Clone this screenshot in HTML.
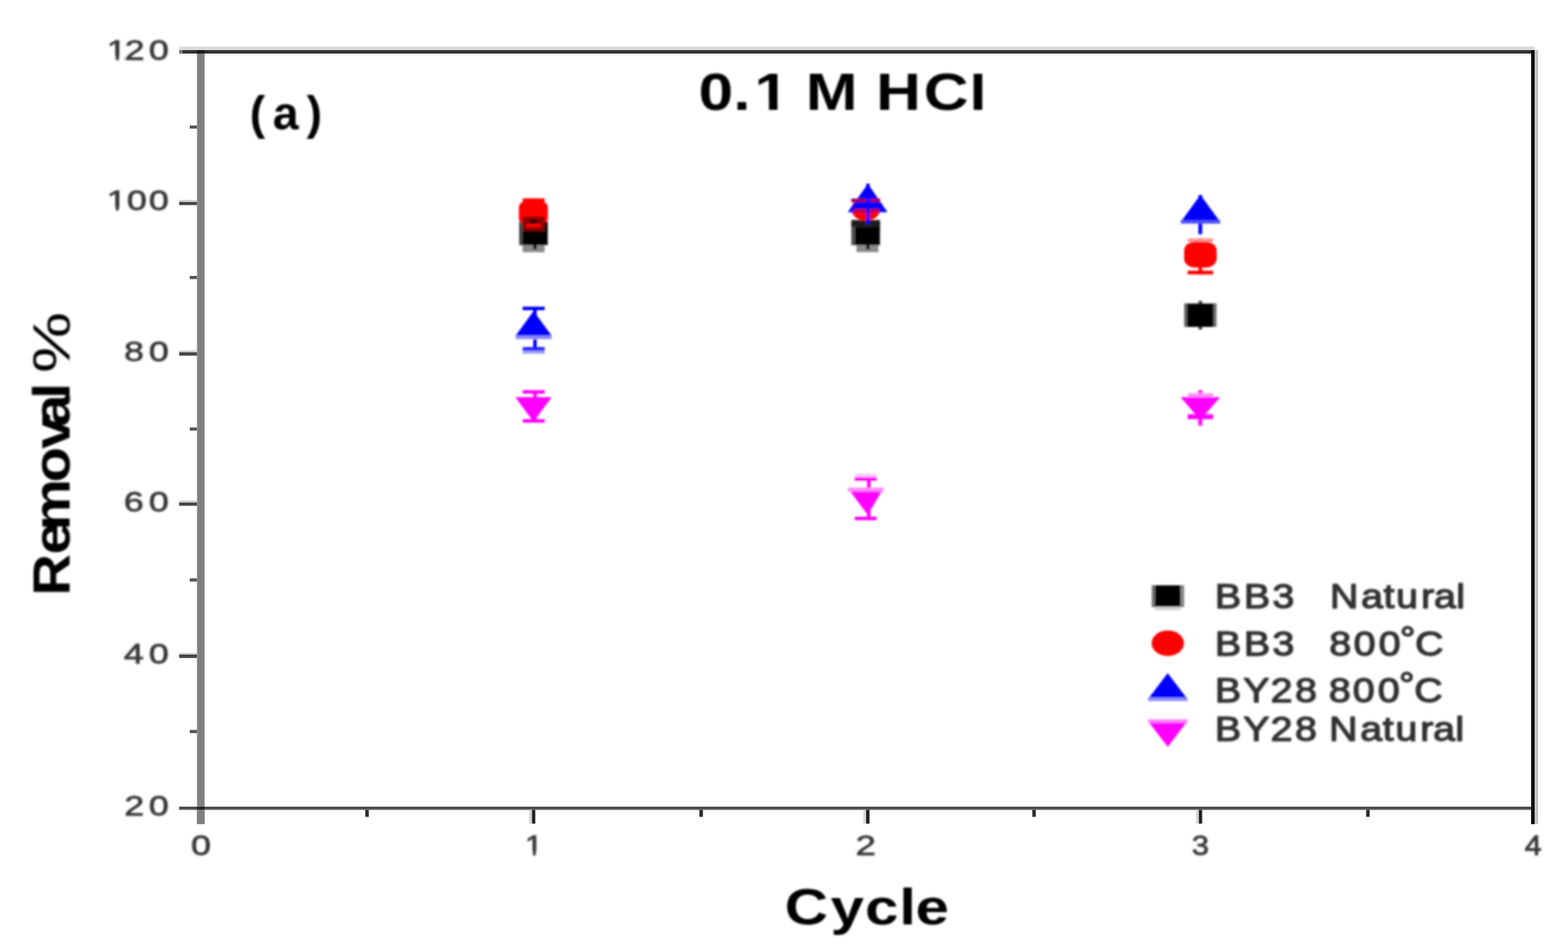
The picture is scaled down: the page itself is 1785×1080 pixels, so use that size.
<!DOCTYPE html>
<html lang="en"><head><meta charset="utf-8"><title>Removal % vs Cycle (0.1 M HCl)</title>
<style>
html,body{margin:0;padding:0;background:#fff;}
body{width:1785px;height:1080px;overflow:hidden;}
svg{display:block;}
text{font-family:"Liberation Sans",Arial,Helvetica,sans-serif;}
</style></head>
<body>
<svg width="1785" height="1080" viewBox="0 0 1785 1080">
<defs><clipPath id="c0"><rect x="-10" y="-10" width="2000" height="73.81"/><rect x="131.81" y="62.81" width="3.59" height="23.99"/><rect x="142" y="62.81" width="22.51" height="43.99"/><rect x="169" y="62.81" width="23.43" height="43.99"/></clipPath><clipPath id="c1"><rect x="-10" y="-10" width="2000" height="245.51"/><rect x="131.81" y="234.51" width="3.59" height="23.99"/><rect x="144" y="234.51" width="23.43" height="43.99"/><rect x="169" y="234.51" width="23.43" height="43.99"/></clipPath><clipPath id="c2"><rect x="-10" y="-10" width="2000" height="978.81"/><rect x="606.71" y="967.81" width="3.25" height="23.99"/></clipPath><clipPath id="c3"><rect x="-10" y="-10" width="2000" height="127.28"/><rect x="796" y="116.28" width="37.67" height="47.62"/><rect x="837.5" y="116.28" width="13.99" height="47.62"/><rect x="875.38" y="116.28" width="9.71" height="27.62"/><rect x="920" y="116.28" width="53.5" height="47.62"/><rect x="1000" y="116.28" width="45.62" height="47.62"/><rect x="1052.3" y="116.28" width="50.29" height="47.62"/><rect x="1106.5" y="116.28" width="13.71" height="47.62"/></clipPath><clipPath id="ctl"><rect x="700" y="0" width="404" height="200"/><rect x="1104" y="84.11" width="30" height="100"/><rect x="1134" y="0" width="100" height="200"/></clipPath><filter id="soft" x="-5%" y="-5%" width="110%" height="110%"><feGaussianBlur stdDeviation="0.8"/></filter></defs>
<rect width="1785" height="1080" fill="#fff"/>
<g id="frame"><rect x="224.3" y="57" width="8.6" height="881" fill="#808080"/>
<rect x="204" y="53" width="1543" height="4" fill="#dadada"/>
<rect x="204" y="57" width="1543" height="4" fill="#343434"/>
<rect x="204" y="57" width="4" height="4" fill="#777"/>
<rect x="204" y="918" width="1539" height="3.6" fill="#4e4e4e"/>
<rect x="1743" y="57" width="4" height="881" fill="#111"/>
<rect x="1747" y="57" width="4" height="881" fill="#c4c4c4"/>
<rect x="224.3" y="918" width="8.6" height="3.6" fill="#262626"/>
<rect x="224.3" y="57" width="8.6" height="4" fill="#1c1c1c"/>
<rect x="204" y="229.6" width="20.3" height="3.8" fill="#444"/>
<rect x="204" y="227.6" width="20.3" height="2" fill="#c8c8c8"/>
<rect x="204" y="400.9" width="20.3" height="3.8" fill="#444"/>
<rect x="204" y="398.9" width="20.3" height="2" fill="#c8c8c8"/>
<rect x="204" y="571.8" width="20.3" height="3.8" fill="#444"/>
<rect x="204" y="569.8" width="20.3" height="2" fill="#c8c8c8"/>
<rect x="204" y="745" width="20.3" height="3.8" fill="#444"/>
<rect x="204" y="743" width="20.3" height="2" fill="#c8c8c8"/>
<rect x="216" y="142.8" width="8.3" height="3.6" fill="#555"/>
<rect x="216" y="314" width="8.3" height="3.6" fill="#555"/>
<rect x="216" y="486.4" width="8.3" height="3.6" fill="#555"/>
<rect x="216" y="658.2" width="8.3" height="3.6" fill="#555"/>
<rect x="216" y="830.7" width="8.3" height="3.6" fill="#555"/>
<rect x="605.4" y="921.6" width="4" height="15.8" fill="#1e1e1e"/>
<rect x="602.4" y="921.6" width="3" height="15.8" fill="#d4d4d4"/>
<rect x="985.8" y="921.6" width="4" height="15.8" fill="#1e1e1e"/>
<rect x="982.8" y="921.6" width="3" height="15.8" fill="#d4d4d4"/>
<rect x="1364.5" y="921.6" width="4" height="15.8" fill="#1e1e1e"/>
<rect x="1361.5" y="921.6" width="3" height="15.8" fill="#d4d4d4"/>
<rect x="224.3" y="921.6" width="8.6" height="15.8" fill="#808080"/>
<rect x="415.8" y="921.6" width="4" height="8" fill="#2a2a2a"/>
<rect x="796.2" y="921.6" width="4" height="8" fill="#2a2a2a"/>
<rect x="1175.2" y="921.6" width="4" height="8" fill="#2a2a2a"/>
<rect x="1555.2" y="921.6" width="4" height="8" fill="#2a2a2a"/>
</g>
<g id="content" filter="url(#soft)">
<g clip-path="url(#c0)"><text font-size="32" fill="#383838" stroke="#383838" stroke-width="0.79" stroke-linejoin="round" transform="scale(1.27,1)" x="95.74 111.78 133.4" y="67.8">120</text></g>
<g clip-path="url(#c1)"><text font-size="32" fill="#383838" stroke="#383838" stroke-width="0.79" stroke-linejoin="round" transform="scale(1.27,1)" x="95.74 113.71 133.4" y="239.5">100</text></g>
<text font-size="32" fill="#383838" stroke="#383838" stroke-width="0.79" stroke-linejoin="round" transform="scale(1.27,1)" x="111.21 133.4" y="410.8">80</text>
<text font-size="32" fill="#383838" stroke="#383838" stroke-width="0.79" stroke-linejoin="round" transform="scale(1.27,1)" x="110.97 133.4" y="581.7">60</text>
<text font-size="32" fill="#383838" stroke="#383838" stroke-width="0.79" stroke-linejoin="round" transform="scale(1.27,1)" x="111.08 133.4" y="754.9">40</text>
<text font-size="32" fill="#383838" stroke="#383838" stroke-width="0.79" stroke-linejoin="round" transform="scale(1.27,1)" x="111.38 133.4" y="927.8">20</text>
<text font-size="32" fill="#383838" stroke="#383838" stroke-width="0.79" stroke-linejoin="round" transform="scale(1.27,1)" x="171.19" y="972.8">0</text>
<g clip-path="url(#c2)"><text font-size="32" fill="#383838" stroke="#383838" stroke-width="0.87" stroke-linejoin="round" transform="scale(1.15,1)" x="519.53" y="972.8">1</text></g>
<text font-size="32" fill="#383838" stroke="#383838" stroke-width="0.77" stroke-linejoin="round" transform="scale(1.3,1)" x="749.16" y="972.8">2</text>
<text font-size="32" fill="#383838" stroke="#383838" stroke-width="0.91" stroke-linejoin="round" transform="scale(1.1,1)" x="1233.33" y="972.8">3</text>
<text font-size="32" fill="#383838" stroke="#383838" stroke-width="0.93" stroke-linejoin="round" transform="scale(1.08,1)" x="1607.14" y="972.8">4</text>
<g clip-path="url(#ctl)"><g clip-path="url(#c3)"><text font-size="59" font-weight="bold" fill="#000" transform="scale(1.2,1)" x="662.67 695.58 715.72 748.53 764.39 813.53 831.05 876.16 919.63" y="124.9">0.1 M HCl</text></g></g>
<text font-size="53" font-weight="bold" fill="#000" transform="scale(1,1)" x="284.36 310.45 348.95" y="146.5">(a)</text>
<text font-size="57" font-weight="bold" fill="#000" transform="scale(1.2,1)" x="744.33 787.89 820.69 853.1 868.61" y="1052.5">Cycle</text>
<text font-size="60" font-weight="bold" fill="#000" transform="translate(79.2,673.5) rotate(-90) scale(1.1,1)" x="-4.01 38.57 63.32 113.11 147.95 170.97 199.45" y="0">Removal <tspan font-weight="normal" x="226.37" textLength="63.22" lengthAdjust="spacingAndGlyphs">%</tspan></text>
<text font-size="38.3" fill="#333" stroke="#333" stroke-width="1.37" stroke-linejoin="round" transform="scale(1.17,1)" x="1182.16 1210.36 1238.11" y="691.8">BB3</text>
<text font-size="38.3" fill="#333" stroke="#333" stroke-width="1.37" stroke-linejoin="round" transform="scale(1.17,1)" x="1294.12 1324.27 1346.26 1358.45 1382.76 1395.21 1416.91" y="691.8">Natural</text>
<text font-size="38.3" fill="#333" stroke="#333" stroke-width="1.37" stroke-linejoin="round" transform="scale(1.17,1)" x="1182.16 1210.36 1238.11" y="746.2">BB3</text>
<text font-size="38.3" fill="#333" stroke="#333" stroke-width="1.37" stroke-linejoin="round" transform="scale(1.17,1)" x="1293.46 1317.14 1341.5 1362.08 1376.94" y="746.2 746.2 746.2 739.6 746.2">800°C</text>
<text font-size="38.3" fill="#333" stroke="#333" stroke-width="1.37" stroke-linejoin="round" transform="scale(1.17,1)" x="1182.16 1209.67 1236.36 1260.13" y="799.3">BY28</text>
<text font-size="38.3" fill="#333" stroke="#333" stroke-width="1.37" stroke-linejoin="round" transform="scale(1.17,1)" x="1293.04 1316.28 1340.64 1361.22 1376.09" y="799.3 799.3 799.3 792.5 799.3">800°C</text>
<text font-size="38.3" fill="#333" stroke="#333" stroke-width="1.37" stroke-linejoin="round" transform="scale(1.17,1)" x="1182.16 1209.67 1236.36 1260.13" y="843">BY28</text>
<text font-size="38.3" fill="#333" stroke="#333" stroke-width="1.37" stroke-linejoin="round" transform="scale(1.17,1)" x="1293.27 1323.42 1345.4 1357.6 1381.9 1394.36 1416.05" y="843">Natural</text>
<rect x="1311" y="666.1" width="36.7" height="24.5" fill="#000"/>
<rect x="1311" y="666.1" width="3.8" height="24.5" fill="#777"/>
<rect x="1344" y="666.1" width="3.7" height="24.5" fill="#8a8a8a"/>
<rect x="1314.8" y="690.6" width="29.2" height="4" fill="#d2d2d2"/>
<ellipse cx="1329.4" cy="732" rx="18.4" ry="14.5" fill="#f00"/>
<polygon points="1329.3,766 1352,795.8 1306.8,795.8" fill="#00f"/>
<rect x="1306.8" y="793.9" width="45.2" height="3.9" fill="#8c8cff"/>
<polygon points="1306.8,820.5 1352,820.5 1329.3,850" fill="#f0f"/>
<rect x="1306.8" y="818.7" width="45.2" height="3.9" fill="#ff80ff"/>
<!-- C1 -->
<g>
<rect x="591" y="252" width="32.5" height="27" fill="#000"/>
<rect x="591" y="252" width="4" height="27" fill="#444"/>
<rect x="595" y="279" width="25" height="8" fill="#8a8a8a"/>
<rect x="607" y="279" width="4" height="5" fill="#111"/>
<rect x="607" y="226" width="4" height="33" fill="#f00"/>
<rect x="595" y="225.7" width="25" height="4.2" fill="#f00"/>
<rect x="590.7" y="229.5" width="33" height="25" rx="7" ry="6" fill="#f00"/>
<rect x="595" y="246.5" width="25" height="16.3" fill="#8c0000"/>
<rect x="599" y="255" width="16.5" height="3.7" fill="#f00"/>
<rect x="603" y="250" width="8" height="4" fill="#200000"/>
<rect x="607" y="349" width="4" height="50" fill="#00f"/>
<rect x="595" y="349" width="25" height="4" fill="#00f"/>
<rect x="595" y="395" width="25" height="4" fill="#22f"/>
<rect x="595" y="399" width="25" height="3.5" fill="#9a9aff"/>
<polygon points="607.4,354 628,382 587,382" fill="#00f"/>
<rect x="587" y="382" width="41" height="4" fill="#8c8cff"/>
<rect x="607" y="444" width="4" height="37" fill="#f0f"/>
<rect x="595" y="444" width="25" height="4" fill="#f0f"/>
<rect x="595" y="477" width="25" height="4" fill="#f0f"/>
<polygon points="586.6,452 628,452 607.3,480" fill="#f0f"/>
</g>
<!-- C2 -->
<g>
<rect x="969.4" y="250.6" width="32.3" height="28.4" fill="#000"/>
<rect x="969.4" y="250.6" width="32.3" height="8.7" fill="#1c1c1c"/>
<rect x="969.4" y="258" width="4" height="21" fill="#555"/>
<rect x="975" y="279" width="25" height="8" fill="#8a8a8a"/>
<rect x="986" y="279" width="4" height="5" fill="#111"/>
<ellipse cx="985.6" cy="238" rx="16.5" ry="13" fill="#f00"/>
<polygon points="988,209.3 1010.4,241.6 965,241.6" fill="#00f"/>
<rect x="969" y="226" width="33" height="4" fill="#a0005a"/>
<rect x="972" y="237.7" width="29" height="3.5" fill="#c80030"/>
<rect x="986" y="209" width="4" height="46" fill="#00f"/>
<rect x="987" y="543" width="4" height="49" fill="#f0f"/>
<rect x="973" y="543" width="25" height="4" fill="#f0f"/>
<rect x="973" y="539" width="25" height="4" fill="#ffc8ff"/>
<rect x="973" y="588" width="25" height="4" fill="#f0f"/>
<polygon points="965,555.2 1006,555.2 987.8,586" fill="#f0f"/>
<rect x="965" y="555.2" width="41" height="4.2" fill="#ff8cff"/>
</g>
<!-- C3 -->
<g>
<rect x="1364.5" y="342.5" width="4" height="32.5" fill="#333"/>
<rect x="1348" y="345.5" width="37" height="26.5" fill="#000"/>
<rect x="1348" y="345.5" width="3.5" height="26.5" fill="#666"/>
<rect x="1381.5" y="345.5" width="3.5" height="26.5" fill="#777"/>
<rect x="1364.4" y="271.4" width="4" height="41" fill="#f00"/>
<rect x="1352" y="271.4" width="29" height="4" fill="#ff9090"/>
<rect x="1352" y="308" width="29" height="4.3" fill="#f00"/>
<rect x="1348" y="275" width="37" height="29.5" rx="12" ry="10" fill="#f00"/>
<rect x="1364.2" y="222" width="4.4" height="44.5" fill="#00f"/>
<polygon points="1366.6,221.8 1389,252.5 1344.2,252.5" fill="#00f"/>
<rect x="1344.2" y="250.5" width="44.8" height="4" fill="#5050ff"/>
<rect x="1364.2" y="444" width="4.4" height="40.4" fill="#f0f"/>
<rect x="1352" y="447.5" width="29" height="4.5" fill="#ff90ff"/>
<rect x="1352" y="471.5" width="29" height="5.5" fill="#f0f"/>
<polygon points="1344,452 1389,452 1366.4,478" fill="#f0f"/>
</g>
</g>
</svg>
</body></html>
